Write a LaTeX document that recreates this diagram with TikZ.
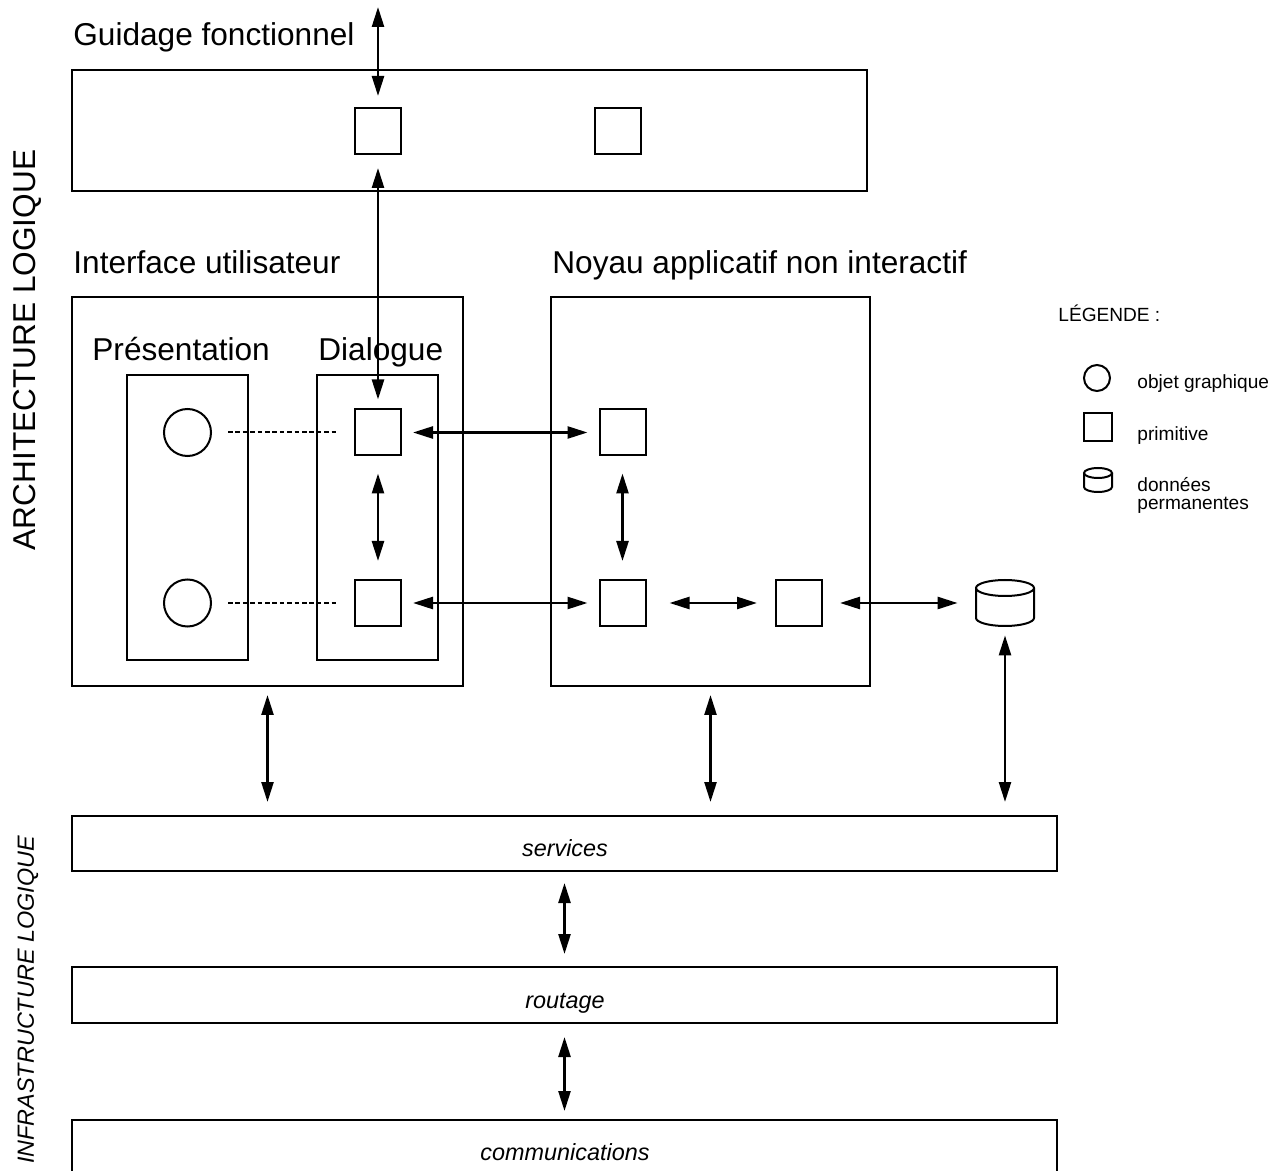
\documentclass[tikz,border=0pt]{standalone}
\usepackage{fontspec}
\setmainfont{Liberation Sans}
\usetikzlibrary{arrows.meta}
\begin{document}
\begin{tikzpicture}[x=0.5pt,y=-0.5pt,
 box/.style={draw, line width=1pt, inner sep=0pt},
 prim/.style={draw, line width=1pt, minimum size=23pt, inner sep=0pt},
 obj/.style={draw, circle, line width=1pt, minimum size=23.5pt, inner sep=0pt},
 arr/.style={{Triangle[length=10pt,width=6pt]}-{Triangle[length=10pt,width=6pt]}, line width=1.25pt},
 dotl/.style={line width=1pt, dash pattern=on 2.3pt off 1.4pt},
 big/.style={font=\fontsize{15.8pt}{19pt}\selectfont, inner sep=0pt},
 mid/.style={font=\fontsize{11.7pt}{14pt}\selectfont\itshape, inner sep=0pt},
 small/.style={font=\fontsize{9.55pt}{10pt}\selectfont, inner sep=0pt},
]
\useasboundingbox (0,0) rectangle (1281,1171);
\clip (0,0) rectangle (1281,1171);

% big boxes
\node[box, minimum width=397.5pt, minimum height=60.5pt] (gf) at (469.5,130.5) {};
\node[box, minimum width=195.5pt, minimum height=194.5pt] (iu) at (267.5,491.5) {};
\node[box, minimum width=159.5pt, minimum height=194.5pt] (na) at (710.5,491.5) {};
\node[box, minimum width=60.5pt, minimum height=142.5pt] (pr) at (187.5,517.5) {};
\node[box, minimum width=60.5pt, minimum height=142.5pt] (dl) at (377.5,517.5) {};
\node[box, minimum width=492.5pt, minimum height=27.5pt] (svc) at (564.5,843.5) {};
\node[box, minimum width=492.5pt, minimum height=28pt] (rout) at (564.5,995) {};
\node[box, minimum width=492.5pt, minimum height=33pt] (comm) at (564.5,1153) {};

% titles
\node[big, anchor=base west] (tgf) at (73,46) {Guidage fonctionnel};
\node[big, anchor=base west] (tiu) at (73,274) {Interface utilisateur};
\node[big, anchor=base west] (tna) at (552,274) {Noyau applicatif non interactif};
\node[big, anchor=base west] (tpr) at (92,361) {Présentation};
\node[big, anchor=base west] (tdl) at (318,361) {Dialogue};
\node[big, rotate=90] (tarch) at (27,350) {ARCHITECTURE LOGIQUE};
\node[mid, rotate=90] (tinf) at (28,1000) {INFRASTRUCTURE LOGIQUE};

\node[mid, anchor=base] (tsvc) at (565,856) {services};
\node[mid, anchor=base] (trout) at (565,1008) {routage};
\node[mid, anchor=base] (tcomm) at (565,1160) {communications};

% primitives
\node[prim] (q1) at (378,131) {};
\node[prim] (q2) at (618,131) {};
\node[prim] (d1) at (378,432.5) {};
\node[prim] (d2) at (378,603) {};
\node[prim] (n1) at (622.5,432.5) {};
\node[prim] (n2) at (622.5,603) {};
\node[prim] (n3) at (799,603) {};

% graphical objects
\node[obj] (c1) at (187.5,432.5) {};
\node[obj] (c2) at (187.5,603) {};

% database
\node[minimum width=29pt, minimum height=23pt, inner sep=0pt] (db) at (1005,603) {};
\draw[line width=1pt, fill=white] (976,588) -- (976,618) arc[start angle=180, end angle=0, x radius=29, y radius=8] -- (1034,588);
\draw[line width=1pt] (1005,588) ellipse [x radius=29, y radius=8];

% connectors
\coordinate (gtop) at (378,7);
\draw[arr, shorten >=5.5pt] (gtop) -- (q1);
\draw[arr, shorten <=6.5pt, shorten >=4.5pt] (q1) -- (d1);
\draw[arr, shorten <=5.5pt, shorten >=5.5pt] (d1) -- (n1);
\draw[arr, shorten <=5.5pt, shorten >=5.5pt] (d2) -- (n2);
\draw[arr, shorten <=8.5pt, shorten >=9pt] (d1) -- (d2);
\draw[arr, shorten <=8.5pt, shorten >=9pt] (n1) -- (n2);
\draw[arr, shorten <=11.5pt, shorten >=9pt] (n2) -- (n3);
\draw[arr, shorten <=8.5pt, shorten >=9pt] (n3) -- (db);
\draw[dotl, shorten <=8pt, shorten >=9pt] (c1) -- (d1);
\draw[dotl, shorten <=8pt, shorten >=9pt] (c2) -- (d2);

\draw[arr, shorten <=4pt, shorten >=6.5pt] (iu.south) -- (iu.south |- svc.north);
\draw[arr, shorten <=4pt, shorten >=6.5pt] (na.south) -- (na.south |- svc.north);
\draw[arr, shorten <=4.5pt, shorten >=6.5pt] (db.south) -- (db.south |- svc.north);
\draw[arr, shorten <=5.5pt, shorten >=6pt] (svc.south) -- (rout.north);
\draw[arr, shorten <=6.5pt, shorten >=4pt] (rout.south) -- (comm.north);

% legend
\node[small, anchor=base west] (tleg) at (1058,322) {LÉGENDE :};
\node[obj, minimum size=13pt] (lc) at (1097,378) {};
\node[prim, minimum size=14pt] (ls) at (1098,427.5) {};
\node[minimum width=14pt, minimum height=12.5pt, inner sep=0pt] (lcyl) at (1098,480.5) {};
\draw[line width=1pt] (1084,473) -- (1084,487) arc[start angle=180, end angle=0, x radius=14, y radius=5] -- (1112,473);
\draw[line width=1pt] (1098,473) ellipse [x radius=14, y radius=5];
\node[small, anchor=base west] (tlc) at (1137,389) {objet graphique};
\node[small, anchor=base west] (tls) at (1137,441) {primitive};
\node[small, anchor=base west] (tld1) at (1137,492) {données};
\node[small, anchor=base west] (tld2) at (1137,510) {permanentes};
\end{tikzpicture}
\end{document}
